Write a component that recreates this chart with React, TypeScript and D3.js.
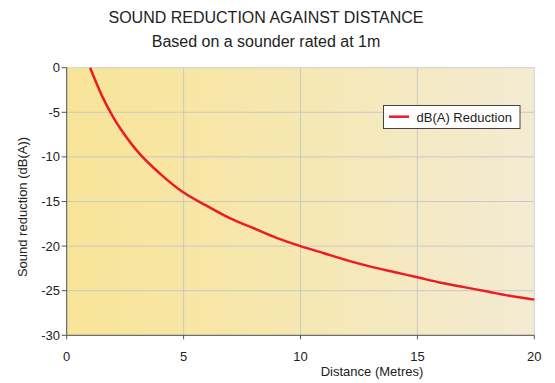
import React from "react";
import * as d3 from "d3";

const distances = [1, 1.5, 2, 2.5, 3, 4, 5, 6, 7, 8, 9, 10, 11, 12, 13, 14, 15, 16, 17, 18, 19, 20];
const reductions = [0, -3.1, -5.6, -7.6, -9.3, -11.9, -14, -15.5, -16.9, -18, -19.1, -20, -20.8, -21.6, -22.3, -22.9, -23.5, -24.1, -24.6, -25.1, -25.6, -26];
const xTicks = [0, 5, 10, 15, 20];
const yTicks = [0, -5, -10, -15, -20, -25, -30];
const seriesName = "dB(A) Reduction";
const title = "SOUND REDUCTION AGAINST DISTANCE";
const subtitle = "Based on a sounder rated at 1m";
const xLabel = "Distance (Metres)";
const yLabel = "Sound reduction (dB(A))";

export default function App() {
  const W = 555, H = 383;
  const left = 66.7, right = 534.3, top = 67.7, bottom = 335.3;
  const x = d3.scaleLinear().domain([0, 20]).range([left, right]);
  const y = d3.scaleLinear().domain([0, -30]).range([top, bottom]);
  const pts: [number, number][] = distances.map((d, i) => [d, reductions[i]]);
  const line = d3.line<[number, number]>().x(d => x(d[0])).y(d => y(d[1])).curve(d3.curveMonotoneX);
  const font = "'Liberation Sans', Arial, sans-serif";
  const axisColor = "#555";
  return (
    <svg width={W} height={H} style={{ position: "absolute", left: 0, top: 0, background: "#fff" }} fontFamily={font}>
      <defs>
        <linearGradient id="bg" x1="0" x2="1" y1="0" y2="0">
          <stop offset="0" stopColor="#f8e498" />
          <stop offset="0.3" stopColor="#f7e6a6" />
          <stop offset="1" stopColor="#f3ebd3" />
        </linearGradient>
      </defs>
      <text x={266} y={23} textAnchor="middle" fontSize={16} fill="#222">{title}</text>
      <text x={266} y={47} textAnchor="middle" fontSize={16} fill="#222">{subtitle}</text>
      <rect x={left} y={top} width={right - left} height={bottom - top} fill="url(#bg)" stroke="#d0d0d0" strokeWidth={1} />
      {yTicks.filter(t => t !== 0 && t !== -30).map(t => (
        <line key={"gy" + t} x1={left} x2={right} y1={y(t)} y2={y(t)} stroke="#c8c8c8" strokeWidth={1} />
      ))}
      {xTicks.filter(t => t !== 0 && t !== 20).map(t => (
        <line key={"gx" + t} x1={x(t)} x2={x(t)} y1={top} y2={bottom} stroke="#c8c8c8" strokeWidth={1} />
      ))}
      <line x1={left} x2={left} y1={top} y2={bottom} stroke={axisColor} strokeWidth={1} />
      <line x1={left} x2={right} y1={bottom} y2={bottom} stroke={axisColor} strokeWidth={1} />
      {yTicks.map(t => (
        <g key={"ty" + t}>
          <line x1={left - 5} x2={left} y1={y(t)} y2={y(t)} stroke={axisColor} />
          <text x={60} y={y(t) + 4.5} textAnchor="end" fontSize={13} fill="#222">{t}</text>
        </g>
      ))}
      {xTicks.map(t => (
        <g key={"tx" + t}>
          <line x1={x(t)} x2={x(t)} y1={bottom} y2={bottom + 4} stroke={axisColor} />
          <text x={x(t)} y={361} textAnchor="middle" fontSize={13} fill="#222">{t}</text>
        </g>
      ))}
      <text x={372} y={376} textAnchor="middle" fontSize={13} fill="#222">{xLabel}</text>
      <text transform={`translate(27,207) rotate(-90)`} textAnchor="middle" fontSize={13} fill="#222">{yLabel}</text>
      <path d={line(pts) || ""} fill="none" stroke="#ed1c24" strokeWidth={2.5} />
      <rect x={383.5} y={105.5} width={136.5} height={23} fill="#fff" stroke="#444" strokeWidth={1} />
      <line x1={389} x2={409} y1={116.7} y2={116.7} stroke="#ed1c24" strokeWidth={2.5} />
      <text x={416.5} y={121.5} fontSize={13} fill="#222">{seriesName}</text>
    </svg>
  );
}
